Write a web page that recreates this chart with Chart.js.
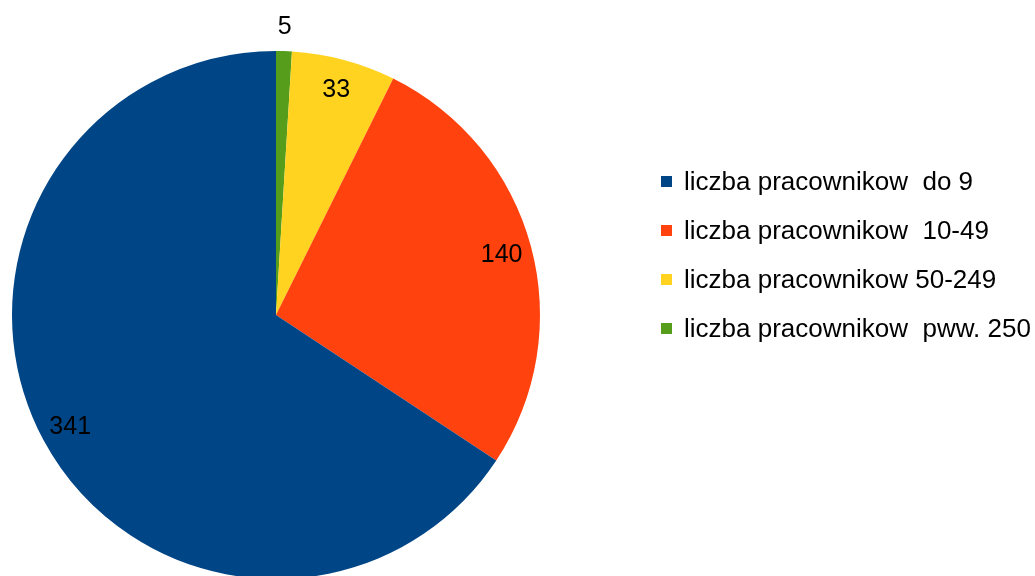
<!DOCTYPE html>
<html>
<head>
<meta charset="utf-8">
<script src="https://cdn.jsdelivr.net/npm/chart.js@4/dist/chart.umd.min.js"></script>
<style>
  html, body { margin: 0; padding: 0; background: #fff; overflow: hidden; width: 1035px; height: 576px; }
  #wrap { position: absolute; left: 0; top: 0; width: 1035px; height: 600px; }
  #legend { position: absolute; left: 661px; top: 164px; font-family: "Liberation Sans", Arial, sans-serif; font-size: 26px; color: #000; }
  .item { position: relative; height: 49px; white-space: pre; line-height: 34px; }
  .sw { position: absolute; left: 0; top: 12px; width: 11px; height: 11px; }
  .tx { position: absolute; left: 23px; top: 0; }
</style>
</head>
<body>
<div id="wrap"><canvas id="c" width="1035" height="600"></canvas></div>
<div id="legend"></div>
<script>
// Legend order (as shown in the reference)
const categories = ["liczba pracownikow  do 9", "liczba pracownikow  10-49", "liczba pracownikow 50-249", "liczba pracownikow  pww. 250"];
const values = [341, 140, 33, 5];
const colors = ["#004586", "#ff420e", "#ffd320", "#579d1c"];

// Pie is drawn clockwise from the top starting with the last category
const pieLabels = categories.slice().reverse();
const pieValues = values.slice().reverse();
const pieColors = colors.slice().reverse();

const labelPlugin = {
  id: 'valueLabels',
  afterDatasetsDraw(chart) {
    const ctx = chart.ctx;
    const meta = chart.getDatasetMeta(0);
    ctx.save();
    ctx.font = '25px "Liberation Sans", Arial, sans-serif';
    ctx.fillStyle = '#000';
    ctx.textAlign = 'center';
    ctx.textBaseline = 'middle';
    meta.data.forEach((arc, i) => {
      const p = arc.getProps(['x', 'y', 'startAngle', 'endAngle', 'outerRadius'], true);
      const mid = (p.startAngle + p.endAngle) / 2;
      const frac = (p.endAngle - p.startAngle) / (2 * Math.PI);
      const r = frac < 0.03 ? p.outerRadius * 1.095 : p.outerRadius * 0.885;
      ctx.fillText(String(pieValues[i]), p.x + Math.cos(mid) * r, p.y + Math.sin(mid) * r + 1);
    });
    ctx.restore();
  }
};

new Chart(document.getElementById('c'), {
  type: 'pie',
  data: {
    labels: pieLabels,
    datasets: [{ data: pieValues, backgroundColor: pieColors, borderWidth: 0 }]
  },
  options: {
    responsive: false,
    animation: false,
    layout: { padding: { left: 12, top: 51, right: 495, bottom: 21 } },
    plugins: { legend: { display: false }, tooltip: { enabled: false } }
  },
  plugins: [labelPlugin]
});

const leg = document.getElementById('legend');
categories.forEach((c, i) => {
  const d = document.createElement('div');
  d.className = 'item';
  d.innerHTML = '<span class="sw" style="background:' + colors[i] + '"></span><span class="tx"></span>';
  d.querySelector('.tx').textContent = c;
  leg.appendChild(d);
});
</script>
</body>
</html>
